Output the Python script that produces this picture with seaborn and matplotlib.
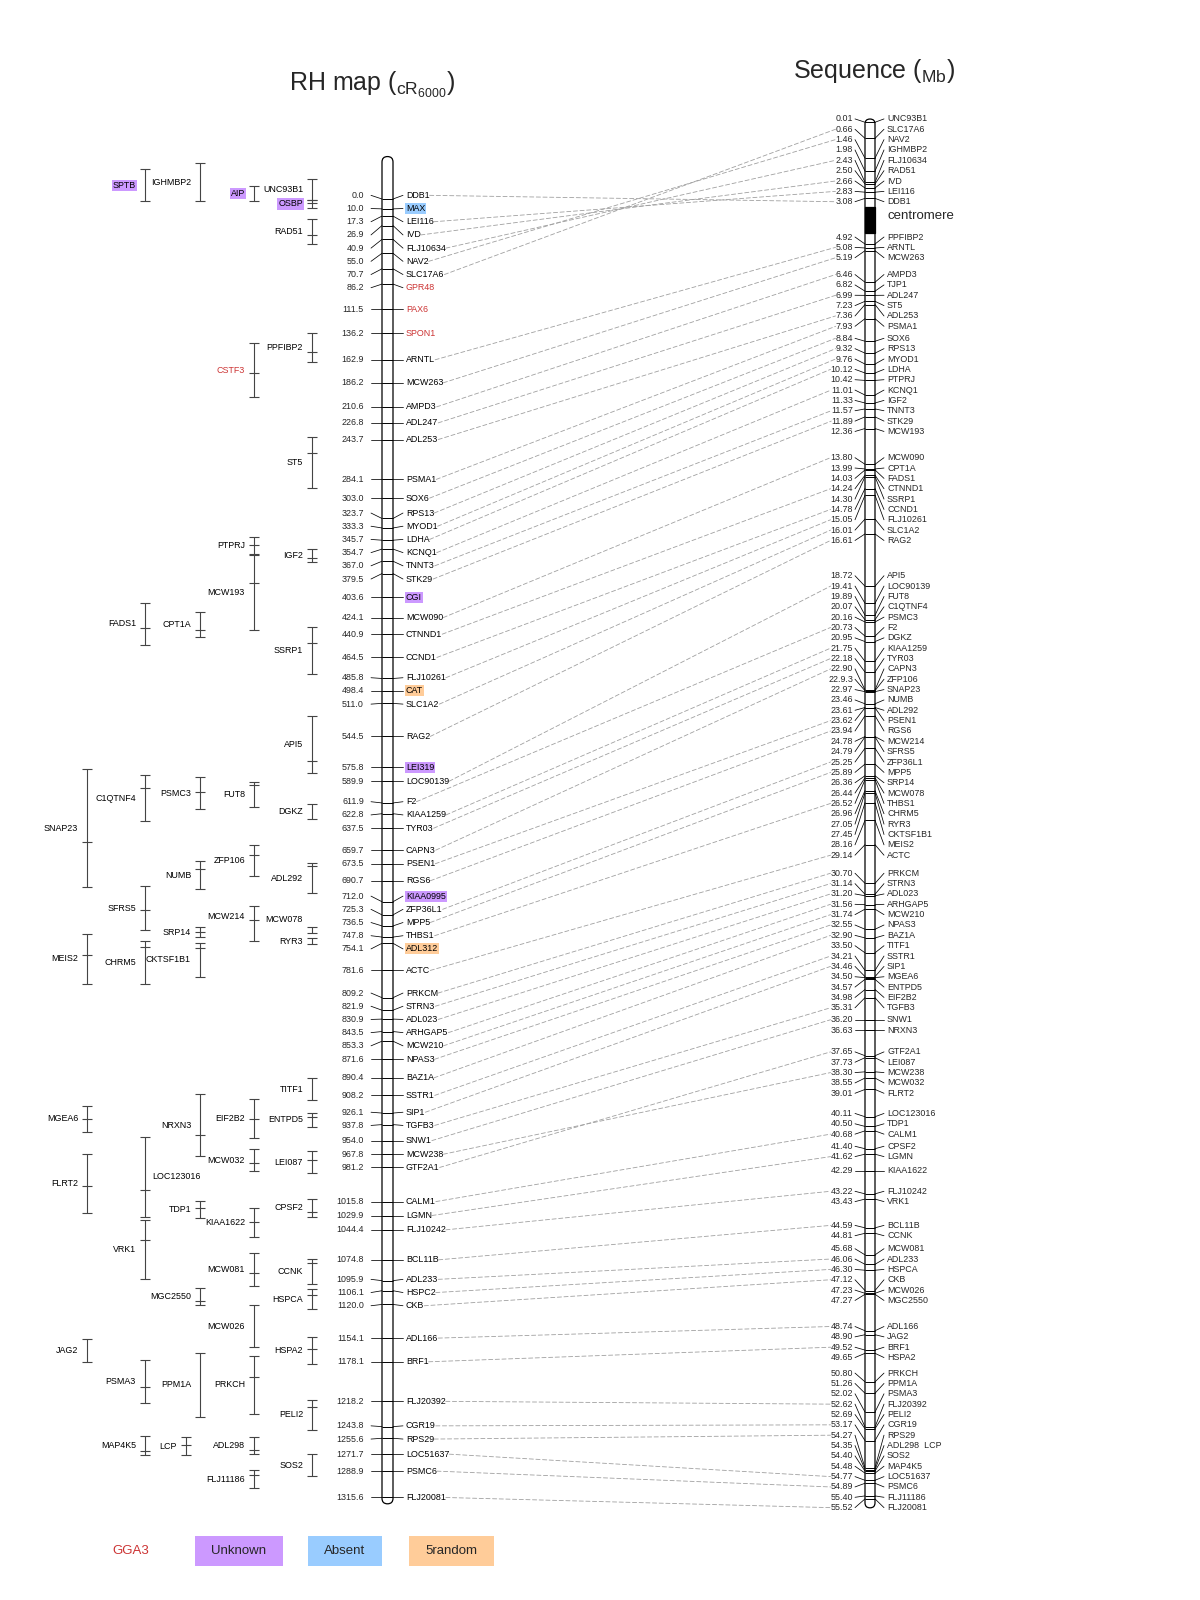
import numpy as np
import matplotlib
matplotlib.use("Agg")
import matplotlib.pyplot as plt
from matplotlib.patches import FancyBboxPatch, Rectangle
import seaborn as sns

# ---- RH map markers (cR6000) ----
rh_names = ["DDB1", "MAX", "LEI116", "IVD", "FLJ10634", "NAV2", "SLC17A6", "GPR48",
            "PAX6", "SPON1", "ARNTL", "MCW263", "AMPD3", "ADL247", "ADL253", "PSMA1",
            "SOX6", "RPS13", "MYOD1", "LDHA", "KCNQ1", "TNNT3", "STK29", "CGI",
            "MCW090", "CTNND1", "CCND1", "FLJ10261", "CAT", "SLC1A2", "RAG2", "LEI319",
            "LOC90139", "F2", "KIAA1259", "TYR03", "CAPN3", "PSEN1", "RGS6", "KIAA0995",
            "ZFP36L1", "MPP5", "THBS1", "ADL312", "ACTC", "PRKCM", "STRN3", "ADL023",
            "ARHGAP5", "MCW210", "NPAS3", "BAZ1A", "SSTR1", "SIP1", "TGFB3", "SNW1",
            "MCW238", "GTF2A1", "CALM1", "LGMN", "FLJ10242", "BCL11B", "ADL233", "HSPC2",
            "CKB", "ADL166", "BRF1", "FLJ20392", "CGR19", "RPS29", "LOC51637", "PSMC6",
            "FLJ20081"]
rh_cr = [0.0, 10.0, 17.3, 26.9, 40.9, 55.0, 70.7, 86.2,
         111.5, 136.2, 162.9, 186.2, 210.6, 226.8, 243.7, 284.1,
         303.0, 323.7, 333.3, 345.7, 354.7, 367.0, 379.5, 403.6,
         424.1, 440.9, 464.5, 485.8, 498.4, 511.0, 544.5, 575.8,
         589.9, 611.9, 622.8, 637.5, 659.7, 673.5, 690.7, 712.0,
         725.3, 736.5, 747.8, 754.1, 781.6, 809.2, 821.9, 830.9,
         843.5, 853.3, 871.6, 890.4, 908.2, 926.1, 937.8, 954.0,
         967.8, 981.2, 1015.8, 1029.9, 1044.4, 1074.8, 1095.9, 1106.1,
         1120.0, 1154.1, 1178.1, 1218.2, 1243.8, 1255.6, 1271.7, 1288.9,
         1315.6]
gga3_markers = ["GPR48", "PAX6", "SPON1", "CSTF3"]
unknown_markers = ["CGI", "LEI319", "KIAA0995", "SPTB", "AIP", "OSBP"]
absent_markers = ["MAX"]
random_markers = ["CAT", "ADL312"]

# ---- sequence markers (Mb) ----
seq_names = ["UNC93B1", "SLC17A6", "NAV2", "IGHMBP2", "FLJ10634", "RAD51", "IVD", "LEI116", "DDB1",
             "PPFIBP2", "ARNTL", "MCW263",
             "AMPD3", "TJP1", "ADL247", "ST5", "ADL253", "PSMA1", "SOX6", "RPS13", "MYOD1", "LDHA",
             "PTPRJ", "KCNQ1", "IGF2", "TNNT3", "STK29", "MCW193",
             "MCW090", "CPT1A", "FADS1", "CTNND1", "SSRP1", "CCND1", "FLJ10261", "SLC1A2", "RAG2",
             "API5", "LOC90139", "FUT8", "C1QTNF4", "PSMC3", "F2", "DGKZ", "KIAA1259", "TYR03",
             "CAPN3", "ZFP106", "SNAP23", "NUMB", "ADL292", "PSEN1", "RGS6", "MCW214", "SFRS5",
             "ZFP36L1", "MPP5", "SRP14", "MCW078", "THBS1", "CHRM5", "RYR3", "CKTSF1B1", "MEIS2", "ACTC",
             "PRKCM", "STRN3", "ADL023", "ARHGAP5", "MCW210", "NPAS3", "BAZ1A", "TITF1", "SSTR1",
             "SIP1", "MGEA6", "ENTPD5", "EIF2B2", "TGFB3", "SNW1", "NRXN3",
             "GTF2A1", "LEI087", "MCW238", "MCW032", "FLRT2",
             "LOC123016", "TDP1", "CALM1", "CPSF2", "LGMN", "KIAA1622",
             "FLJ10242", "VRK1",
             "BCL11B", "CCNK", "MCW081", "ADL233", "HSPCA", "CKB", "MCW026", "MGC2550",
             "ADL166", "JAG2", "BRF1", "HSPA2",
             "PRKCH", "PPM1A", "PSMA3", "FLJ20392", "PELI2", "CGR19", "RPS29", "ADL298  LCP",
             "SOS2", "MAP4K5", "LOC51637", "PSMC6", "FLJ11186", "FLJ20081"]
seq_mb = [0.01, 0.66, 1.46, 1.98, 2.43, 2.50, 2.66, 2.83, 3.08,
          4.92, 5.08, 5.19,
          6.46, 6.82, 6.99, 7.23, 7.36, 7.93, 8.84, 9.32, 9.76, 10.12,
          10.42, 11.01, 11.33, 11.57, 11.89, 12.36,
          13.80, 13.99, 14.03, 14.24, 14.30, 14.78, 15.05, 16.01, 16.61,
          18.72, 19.41, 19.89, 20.07, 20.16, 20.73, 20.95, 21.75, 22.18,
          22.90, 22.93, 22.97, 23.46, 23.61, 23.62, 23.94, 24.78, 24.79,
          25.25, 25.89, 26.36, 26.44, 26.52, 26.96, 27.05, 27.45, 28.16, 29.14,
          30.70, 31.14, 31.20, 31.56, 31.74, 32.55, 32.90, 33.50, 34.21,
          34.46, 34.50, 34.57, 34.98, 35.31, 36.20, 36.63,
          37.65, 37.73, 38.30, 38.55, 39.01,
          40.11, 40.50, 40.68, 41.40, 41.62, 42.29,
          43.22, 43.43,
          44.59, 44.81, 45.68, 46.06, 46.30, 47.12, 47.23, 47.27,
          48.74, 48.90, 49.52, 49.65,
          50.80, 51.26, 52.02, 52.62, 52.69, 53.17, 54.27, 54.35,
          54.40, 54.48, 54.77, 54.89, 55.40, 55.52]
seq_lbl = ["%.2f" % v for v in seq_mb]
seq_lbl[seq_names.index("ZFP106")] = "22.9.3"   # as printed in the original
centromere = (3.43, 4.48)
rh_to_seq = {"HSPC2": "HSPCA"}

# ---- framework intervals drawn left of the RH map (cR6000) ----
br_names = ["SPTB", "IGHMBP2", "AIP", "UNC93B1", "OSBP", "RAD51", "PPFIBP2", "CSTF3", "ST5",
            "PTPRJ", "IGF2", "MCW193", "FADS1", "CPT1A", "SSRP1", "API5", "SNAP23", "C1QTNF4",
            "PSMC3", "FUT8", "DGKZ", "ZFP106", "ADL292", "NUMB", "SFRS5", "MCW214", "SRP14",
            "MCW078", "RYR3", "MEIS2", "CHRM5", "CKTSF1B1", "TITF1", "MGEA6", "NRXN3", "EIF2B2",
            "ENTPD5", "MCW032", "LEI087", "LOC123016", "VRK1", "FLRT2", "TDP1", "KIAA1622",
            "CPSF2", "MCW081", "CCNK", "MGC2550", "HSPCA", "MCW026", "JAG2", "HSPA2", "PSMA3",
            "PPM1A", "PRKCH", "PELI2", "MAP4K5", "LCP", "ADL298", "SOS2", "FLJ11186"]
br_lo = [-30, -36, -13, -20, 1, 20, 136, 146, 241,
         342, 355, 361, 409, 418, 434, 524, 578, 584,
         586, 591, 613, 655, 673, 671, 696, 716, 738,
         738, 749, 745, 752, 754, 891, 919, 907, 912,
         926, 963, 965, 950, 1034, 968, 1015, 1022,
         1013, 1068, 1074, 1103, 1104, 1121, 1155, 1153, 1176,
         1169, 1172, 1217, 1253, 1254, 1254, 1272, 1288]
br_best = [np.nan, np.nan, np.nan, np.nan, 4, 36, 155, 176, 257,
           351, 364, 389, 435, 437, 450, 569, 651, 597,
           601, 594, np.nan, 665, 676, 679, 720, 730, 743,
           np.nan, np.nan, 766, 758, 759, np.nan, 932, 948, 932,
           930, 977, 974, 1004, 1055, 1000, 1022, 1036,
           1026, 1088, 1078, 1117, 1110, np.nan, np.nan, 1165, 1204,
           np.nan, 1194, 1224, 1268, 1262, 1267, np.nan, 1293]
br_hi = [2, 2, 2, 1, 9, 46, 165, 201, 293,
         360, 368, 437, 452, 444, 481, 582, 697, 630,
         618, 616, 628, 686, 703, 699, 741, 752, 748,
         744, 755, 795, 795, 788, 913, 945, 970, 951,
         940, 985, 987, 1031, 1094, 1027, 1032, 1052,
         1031, 1101, 1099, 1121, 1125, 1163, 1178, 1180, 1220,
         1234, 1231, 1247, 1273, 1273, 1272, 1294, 1306]
br_col = [1, 3, 4, 5, 5, 5, 5, 4, 5,
          4, 5, 4, 1, 3, 5, 5, 0, 1,
          3, 4, 5, 4, 5, 3, 1, 4, 3,
          5, 5, 0, 1, 3, 5, 0, 3, 4,
          5, 4, 5, 1, 1, 0, 3, 4,
          5, 4, 5, 3, 5, 4, 0, 5, 1,
          3, 4, 5, 1, 2, 4, 5, 4]

# ---- layout (pixels) ----
W, H = 1200, 1600
RH_Y0, RH_PX = 199, 0.987          # pixel row of 0 cR and pixels per cR
SEQ_Y0, SEQ_PX = 122, 24.8         # pixel row of 0 Mb and pixels per Mb
RH_BAR = (382, 393)
SEQ_BAR = (865, 875)
COL_X = [87, 145, 186, 200, 254, 312]
label_nudge = {"MCW214": -7, "MCW078": -11}
right_side = ["LOC123016"]

RED = "#CC3333"
PURPLE = "#CC99FF"
BLUE = "#99CCFF"
ORANGE = "#FFCC99"
FS = 6.4

sns.set_theme(style="white")
plt.rcParams["font.family"] = ["Liberation Sans", "DejaVu Sans"]


def spread(vals, gap):
    """Push labels apart so that neighbours are at least `gap` away."""
    groups = [[i] for i in range(len(vals))]

    def place(g):
        c = (vals[g[0]] + vals[g[-1]]) / 2
        s = c - (len(g) - 1) * gap / 2
        return s, s + (len(g) - 1) * gap

    merged = True
    while merged:
        merged = False
        for k in range(len(groups) - 1):
            _, e = place(groups[k])
            s, _ = place(groups[k + 1])
            if s < e + gap - 1e-9:
                groups[k] = groups[k] + groups[k + 1]
                del groups[k + 1]
                merged = True
                break
    out = [0.0] * len(vals)
    for g in groups:
        s, _ = place(g)
        for j, i in enumerate(g):
            out[i] = s + j * gap
    return out


def style_for(name):
    kw = {"color": "black"}
    if name in gga3_markers:
        kw["color"] = RED
    elif name in unknown_markers:
        kw["bbox"] = dict(boxstyle="square,pad=0.12", fc=PURPLE, ec="none")
    elif name in absent_markers:
        kw["bbox"] = dict(boxstyle="square,pad=0.12", fc=BLUE, ec="none")
    elif name in random_markers:
        kw["bbox"] = dict(boxstyle="square,pad=0.12", fc=ORANGE, ec="none")
    return kw


fig = plt.figure(figsize=(W / 100, H / 100), dpi=100, facecolor="white")
ax_px = fig.add_axes([0, 0, 1, 1], label="layout")
ax_rh = fig.add_axes([0, 0, 1, 1], label="rh")
ax_seq = fig.add_axes([0, 0, 1, 1], label="seq")
ax_px.set_ylim(H, 0)
ax_rh.set_ylim((H - RH_Y0) / RH_PX, -RH_Y0 / RH_PX)
ax_seq.set_ylim((H - SEQ_Y0) / SEQ_PX, -SEQ_Y0 / SEQ_PX)
for a in (ax_px, ax_rh, ax_seq):
    a.set_xlim(0, W)
    a.axis("off")

# ---- RH map chromosome ----
bl, br = RH_BAR
ax_rh.add_patch(FancyBboxPatch((bl, -43), br - bl, 1365,
                               boxstyle="round,pad=0,rounding_size=5.5",
                               mutation_aspect=1 / RH_PX, fc="white", ec="black", lw=0.9, zorder=2))
ax_rh.hlines(rh_cr, bl, br, color="black", lw=0.7, zorder=3)
rh_pos = spread(rh_cr, 13.2 / RH_PX)
rh_txt = {}
for name, v, p in zip(rh_names, rh_cr, rh_pos):
    ax_rh.plot([371, bl], [p, v], color="black", lw=0.55, zorder=3)
    ax_rh.plot([br, 403], [v, p], color="black", lw=0.55, zorder=3)
    ax_rh.text(364, p, "%.1f" % v, ha="right", va="center", fontsize=FS, zorder=4)
    rh_txt[name] = ax_rh.text(406, p, name, ha="left", va="center", fontsize=FS,
                              zorder=4, **style_for(name))

# ---- framework intervals ----
for name, lo, best, hi, c in zip(br_names, br_lo, br_best, br_hi, br_col):
    x = COL_X[c]
    ax_rh.vlines(x, lo, hi, color="#444444", lw=0.8)
    ticks = [lo, hi] + ([] if np.isnan(best) else [best])
    ax_rh.hlines(ticks, x - 5, x + 5, color="#444444", lw=0.8)
    y = (lo + hi) / 2 + label_nudge.get(name, 0) / RH_PX
    if name in right_side:
        ax_rh.text(x + 7, y, name, ha="left", va="center", fontsize=FS, **style_for(name))
    else:
        ax_rh.text(x - 9, y, name, ha="right", va="center", fontsize=FS, **style_for(name))

# ---- sequence chromosome ----
sl, sr = SEQ_BAR
ax_seq.add_patch(FancyBboxPatch((sl, -0.12), sr - sl, 56.0,
                                boxstyle="round,pad=0,rounding_size=5",
                                mutation_aspect=1 / SEQ_PX, fc="white", ec="black", lw=0.9, zorder=2))
ax_seq.add_patch(Rectangle((sl, centromere[0]), sr - sl, centromere[1] - centromere[0],
                           fc="black", ec="black", lw=0.9, zorder=3))
ax_seq.text(888, (centromere[0] + centromere[1]) / 2 - 0.18, "centromere",
            ha="left", va="center", fontsize=9.5)
ax_seq.hlines(seq_mb, sl, sr, color="black", lw=0.7, zorder=3)
seq_pos = spread(seq_mb, 10.35 / SEQ_PX)
seq_txt = {}
for name, v, p, lab in zip(seq_names, seq_mb, seq_pos, seq_lbl):
    ax_seq.plot([855, sl], [p, v], color="black", lw=0.55, zorder=3)
    ax_seq.plot([sr, 884], [v, p], color="black", lw=0.55, zorder=3)
    seq_txt[name] = ax_seq.text(853, p, lab, ha="right", va="center", fontsize=FS, zorder=4)
    ax_seq.text(887, p, name, ha="left", va="center", fontsize=FS, zorder=4)

# ---- links between the two maps ----
for name in rh_names:
    target = rh_to_seq.get(name, name)
    if target not in seq_txt:
        continue
    ax_px.annotate("", xy=(0, 0.5), xycoords=seq_txt[target],
                   xytext=(1, 0.5), textcoords=rh_txt[name],
                   arrowprops=dict(arrowstyle="-", color="#a0a0a0", lw=0.6,
                                   linestyle=(0, (5, 3)), shrinkA=0, shrinkB=0))

# ---- titles ----
ax_px.text(289, 91, r"RH map ($\mathregular{{}_{cR_{6000}}}$)", fontsize=18, va="baseline")
ax_px.text(793, 78, r"Sequence ($\mathregular{{}_{Mb}}$)", fontsize=18, va="baseline")

# ---- legend ----
ax_px.text(131, 1551, "GGA3", color=RED, fontsize=9.5, ha="center", va="center")
for (x0, w, fc, lab) in [(195, 88, PURPLE, "Unknown"), (308, 74, BLUE, "Absent"),
                         (409, 85, ORANGE, "5random")]:
    ax_px.add_patch(Rectangle((x0, 1536), w, 30, fc=fc, ec="none"))
    ax_px.text(x0 + w / 2, 1551, lab, fontsize=9.5, ha="center", va="center")

fig.savefig("out.png", dpi=100)
